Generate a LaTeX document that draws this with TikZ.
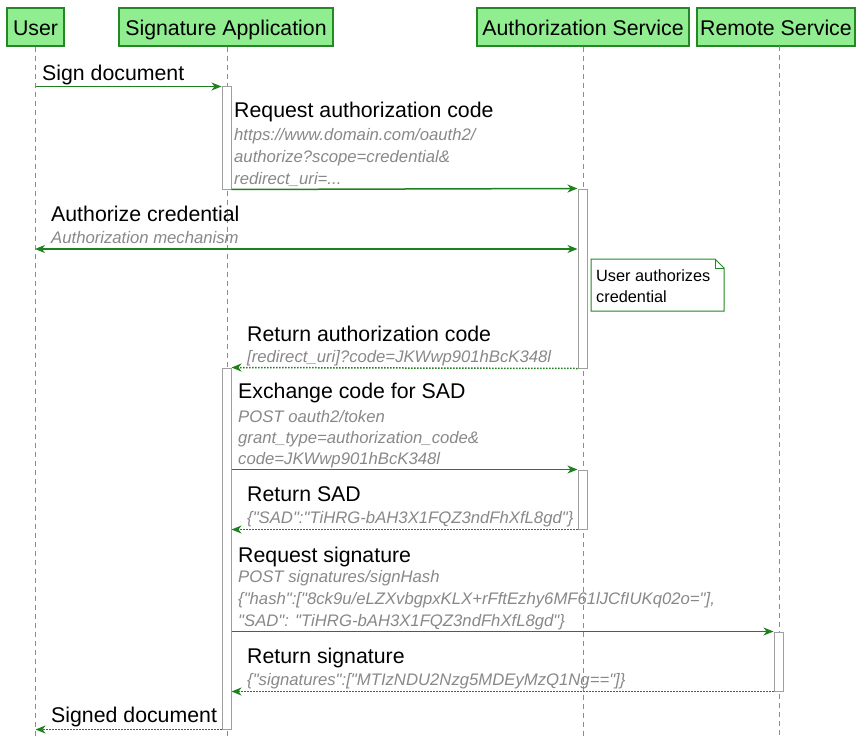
\documentclass[tikz,border=0pt]{standalone}
\usepackage{fontspec}
\setmainfont{Liberation Sans}
% plain family without TeX ligature mapping, so that " stays a straight quote
\newfontfamily\plainsans{Liberation Sans}
\usetikzlibrary{arrows.meta}

\definecolor{hdrfill}{RGB}{144,238,144}
\definecolor{hdrline}{RGB}{36,136,36}
\definecolor{arrgreen}{RGB}{30,128,30}
\definecolor{subgrey}{RGB}{136,136,136}
\definecolor{lifegrey}{RGB}{140,140,140}

\newcommand\msgfont{\fontsize{21.3bp}{25bp}\selectfont}
\newcommand\subfont{\plainsans\fontsize{16.7bp}{20bp}\selectfont\itshape}
\newcommand\notefont{\fontsize{16.3bp}{20bp}\selectfont}

\tikzset{
  actor/.style={draw=hdrline, fill=hdrfill, line width=1.3bp, anchor=base,
    inner sep=0pt, text height=28bp, text depth=10bp, font=\msgfont},
  life/.style={draw=lifegrey, line width=0.9bp, dash pattern=on 5bp off 4bp},
  actbar/.style={draw=gray!75, fill=white, line width=1bp, inner sep=0pt,
    minimum width=9bp},
  msg/.style={draw=arrgreen, line width=1.5bp,
    -{Stealth[length=10bp,width=8bp,inset=3bp]}},
  twoway/.style={draw=arrgreen, line width=1.5bp,
    {Stealth[length=10bp,width=8bp,inset=3bp]}-{Stealth[length=10bp,width=8bp,inset=3bp]}},
  reply/.style={msg, dash pattern=on 1.5bp off 1.5bp},
  lbl/.style={anchor=base west, inner sep=0pt, font=\msgfont},
  sub/.style={anchor=base west, inner sep=0pt, font=\subfont, text=subgrey},
  notetext/.style={anchor=base west, inner sep=0pt, font=\notefont},
  notebox/.style={draw=hdrline, fill=white, line width=1bp},
}

\begin{document}
\begin{tikzpicture}[x=1bp,y=-1bp]
\useasboundingbox (0,0) rectangle (856,738);

% participants
\node[actor, minimum width=57bp]  (hU) at (35.5,36) {User};
\node[actor, minimum width=214bp] (hS) at (226,36)  {Signature Application};
\node[actor, minimum width=212bp] (hA) at (583,36)  {Authorization Service};
\node[actor, minimum width=158bp] (hR) at (776,36)  {Remote Service};

% lifelines
\coordinate (bottom) at (0,738);
\coordinate (rtop) at (779,46);
\draw[life] (hU.south) -- (hU.south |- bottom);
\draw[life] (hS.south -| 227,0) -- (227,738);
\draw[life] (hA.south) -- (hA.south |- bottom);
\draw[life] (rtop) -- (rtop |- bottom);

% activation bars
\node[actbar, minimum height=102bp] (b1) at (226.5,138) {};
\node[actbar, minimum height=179bp] (b2) at (582.5,278.5) {};
\node[actbar, minimum height=361bp] (b3) at (226.5,548.5) {};
\node[actbar, minimum height=59bp]  (b4) at (582.5,499.5) {};
\node[actbar, minimum height=59bp]  (b5) at (778.5,661.5) {};

% note on the authorization service
\draw[notebox] (591,259) -- (715,259) -- (724,268) -- (724,311) -- (591,311) -- cycle;
\draw[notebox, fill=none] (715,259) -- (715,268) -- (724,268);
\node[notetext] (n1) at (596,281) {User authorizes};
\node[notetext] (n2) at (596,302) {credential};

% 1: sign document
\node[lbl] (l1) at (42,80.5) {Sign document};
\draw[msg] (hU |- b1.north west) -- (b1.north west);

% 2: request authorization code
\node[lbl] (l2) at (234,117) {Request authorization code};
\node[sub] (s2a) at (234,140) {https://www.domain.com/oauth2/};
\node[sub] (s2b) at (234,162) {authorize?scope=credential\&};
\node[sub] (s2c) at (234,184) {redirect\_uri=...};
\draw[msg] (b1.south east) -- (b2.north west);

% 3: authorize credential
\node[lbl] (l3) at (51,221.5) {Authorize credential};
\node[sub] (s3) at (51,243.5) {Authorization mechanism};
\coordinate (c3) at (35,249);
\draw[twoway] (c3) -- (c3 -| b2.west);

% 4: return authorization code
\node[lbl] (l4) at (247,341) {Return authorization code};
\node[sub] (s4) at (247,362) {[redirect\_uri]?code=JKWwp901hBcK348l};
\draw[reply] (b2.south west) -- (b3.north east);

% 5: exchange code for SAD
\node[lbl] (l5) at (238,398) {Exchange code for SAD};
\node[sub] (s5a) at (238,422) {POST oauth2/token};
\node[sub] (s5b) at (238,443) {grant\_type=authorization\_code\&};
\node[sub] (s5c) at (238,464) {code=JKWwp901hBcK348l};
\draw[msg] (b3.east |- b4.north west) -- (b4.north west);

% 6: return SAD
\node[lbl] (l6) at (247,501) {Return SAD};
\node[sub] (s6) at (247,523) {\{"SAD":"TiHRG-bAH3X1FQZ3ndFhXfL8gd"\}};
\draw[reply] (b4.south west) -- (b3.east |- b4.south west);

% 7: request signature
\node[lbl] (l7) at (238,562) {Request signature};
\node[sub] (s7a) at (238,582) {POST signatures/signHash};
\node[sub] (s7b) at (238,604) {\{"hash":["8ck9u/eLZXvbgpxKLX+rFftEzhy6MF61lJCfIUKq02o="],};
\node[sub] (s7c) at (238,626) {"SAD": "TiHRG-bAH3X1FQZ3ndFhXfL8gd"\}};
\draw[msg] (b3.east |- b5.north west) -- (b5.north west);

% 8: return signature
\node[lbl] (l8) at (247,663) {Return signature};
\node[sub] (s8) at (247,685) {\{"signatures":["MTIzNDU2Nzg5MDEyMzQ1Ng=="]\}};
\draw[reply] (b5.south west) -- (b3.east |- b5.south west);

% 9: signed document
\node[lbl] (l9) at (51,722) {Signed document};
\draw[reply] (b3.south west) -- (hU |- b3.south west);
\end{tikzpicture}
\end{document}
